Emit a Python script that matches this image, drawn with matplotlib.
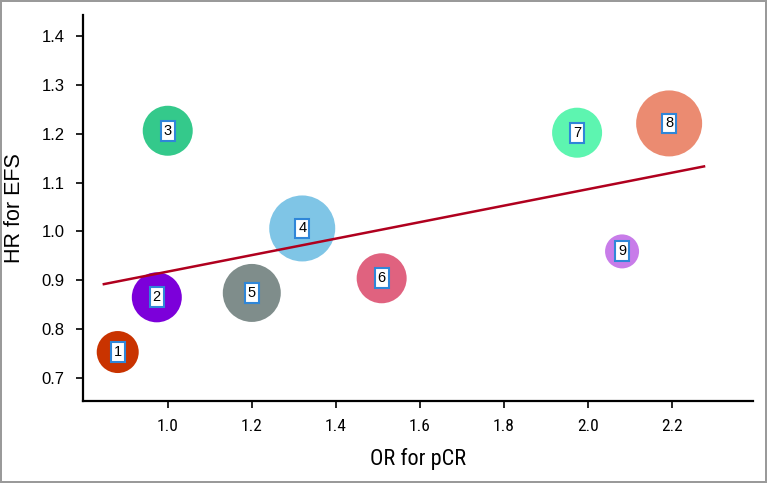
import numpy as np
import matplotlib.pyplot as plt

# trial data
trials = ['1', '2', '3', '4', '5', '6', '7', '8', '9']
or_pcr = [0.881, 0.974, 1.000, 1.320, 1.200, 1.509, 1.974, 2.193, 2.081]
hr_efs = [0.753, 0.865, 1.206, 1.006, 0.874, 0.904, 1.202, 1.221, 0.959]
weight = [21, 25, 25, 33, 29, 25, 25, 33, 17]   # bubble radius (px)
colors = ['#C93300', '#7C00DA', '#34C98B', '#7FC5E6', '#7F8D8B',
          '#E0627F', '#5DF5B0', '#EB8B71', '#C87CE9']

# regression line end points
fit_x = [0.848, 2.276]
fit_y = [0.892, 1.133]

narrow = 'Roboto Condensed'
plain = 'Liberation Sans'

fig = plt.figure(figsize=(7.67, 4.83), dpi=100, facecolor='w')
fig.patch.set_edgecolor('#9a9a9a')
fig.patch.set_linewidth(1.5)
ax = fig.add_axes([0.108, 0.170, 0.874, 0.799])

dpi = fig.dpi
s = [(2 * r * 72.0 / dpi) ** 2 for r in weight]
ax.scatter(or_pcr, hr_efs, s=s, c=colors, edgecolors='none', zorder=2)
ax.plot(fit_x, fit_y, color='#B0001E', lw=1.8, zorder=3)

for t, x, y in zip(trials, or_pcr, hr_efs):
    ax.text(x, y, t, ha='center', va='center', fontsize=10.5, color='black',
            family=plain, zorder=4,
            bbox=dict(boxstyle='square,pad=0.2', fc='white', ec='#2F86D8', lw=1.5))

ax.set_xlim(0.798, 2.393)
ax.set_ylim(0.653, 1.443)
ax.set_xticks([1.0, 1.2, 1.4, 1.6, 1.8, 2.0, 2.2])
ax.set_yticks([0.7, 0.8, 0.9, 1.0, 1.1, 1.2, 1.3, 1.4])
ax.xaxis.set_major_formatter(plt.FormatStrFormatter('%.1f'))
ax.yaxis.set_major_formatter(plt.FormatStrFormatter('%.1f'))

for sp in ['top', 'right']:
    ax.spines[sp].set_visible(False)
for sp in ['left', 'bottom']:
    ax.spines[sp].set_linewidth(1.6)
ax.tick_params(direction='out', length=5, width=1.2, pad=8)
ax.tick_params(axis='x', labelfontfamily=narrow, labelsize=12.5)
ax.tick_params(axis='y', labelfontfamily=plain, labelsize=12)

ax.set_xlabel('OR for pCR', family=narrow, fontsize=16, labelpad=10)
ax.set_ylabel('HR for EFS', family=plain, fontsize=15.5, labelpad=12)

plt.savefig('out.png', dpi=100, facecolor='w', edgecolor=fig.patch.get_edgecolor())
